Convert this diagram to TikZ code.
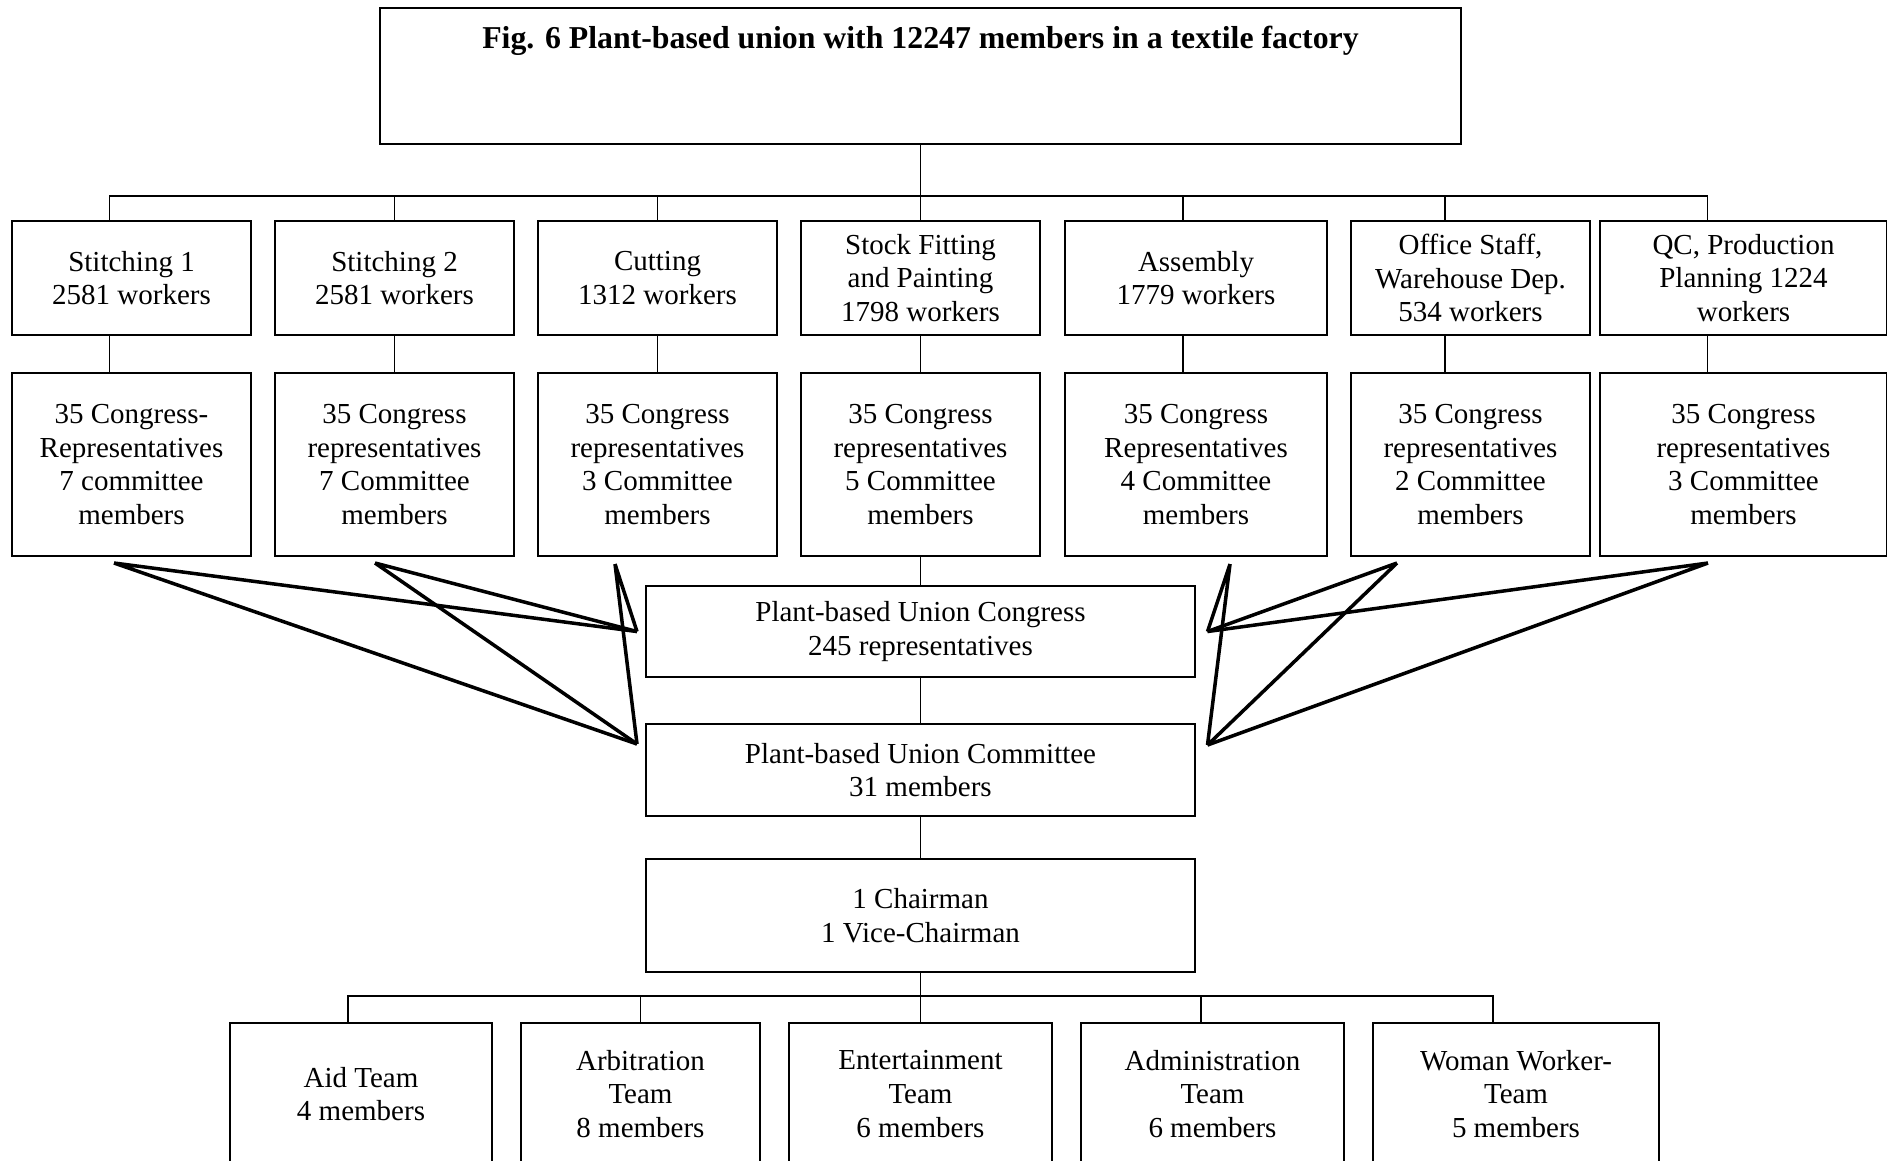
\documentclass[tikz,border=0pt]{standalone}
\usepackage{fontspec}
\setmainfont{Liberation Serif}
\usepackage{tikz}
\usetikzlibrary{positioning}
\newcommand{\boxfont}{\fontsize{16.5}{19.2}\selectfont}
\tikzset{
  %% ---- boxes ----
  titlebox/.style = {rectangle, draw, line width=1.1pt, outer sep=0pt,
                   minimum width=21.62cm, inner ysep=0pt,
                   text height=0.8cm, text depth=1.92cm,
                   font=\fontsize{18.1}{21}\selectfont\bfseries},
  dept/.style   = {rectangle, draw, line width=1.1pt, outer sep=0pt,
                   minimum width=#1, minimum height=2.28cm,
                   inner sep=0pt, align=center, font=\boxfont},
  dept/.default = 4.78cm,
  rep/.style    = {rectangle, draw, line width=1.1pt, outer sep=0pt,
                   minimum width=#1, minimum height=3.66cm,
                   inner sep=0pt, align=center, font=\boxfont},
  rep/.default  = 4.78cm,
  body/.style   = {rectangle, draw, line width=1.1pt, outer sep=0pt,
                   minimum width=10.98cm, minimum height=#1,
                   inner sep=0pt, align=center, font=\boxfont},
  body/.default = 1.82cm,
  team/.style   = {rectangle, draw, line width=1.1pt, outer sep=0pt,
                   minimum width=#1, minimum height=2.84cm,
                   inner sep=0pt, align=center, font=\boxfont},
  team/.default = 5.26cm,
  %% ---- lines ----
  link/.style   = {line width=1.1pt},
  fan/.style    = {line width=2pt},
}

\begin{document}
\begin{tikzpicture}[font=\boxfont]

  \useasboundingbox (0,0) rectangle (37.74,-23.2);

  %% Title
  \node[titlebox, anchor=north] (title) at (18.41,-0.16)
    {Fig. 6 Plant-based union with 12247 members in a textile factory};

  %% Departments
  \node[dept, below=1.54cm of title] (d4) {Stock Fitting\\and Painting\\1798 workers};
  \node[dept, left=0.48cm of d4] (d3) {Cutting\\1312 workers};
  \node[dept, left=0.48cm of d3] (d2) {Stitching 2\\2581 workers};
  \node[dept, left=0.48cm of d2] (d1) {Stitching 1\\2581 workers};
  \node[dept=5.24cm, right=0.5cm of d4] (d5) {Assembly\\1779 workers};
  \node[dept, right=0.48cm of d5] (d6) {Office Staff,\\Warehouse Dep.\\534 workers};
  \node[dept=5.74cm, right=0.2cm of d6] (d7) {QC, Production\\Planning 1224\\workers};

  %% Representatives
  \node[rep, below=0.76cm of d1] (r1)
    {35 Congress-\\Representatives\\7 committee\\members};
  \node[rep, below=0.76cm of d2] (r2)
    {35 Congress\\representatives\\7 Committee\\members};
  \node[rep, below=0.76cm of d3] (r3)
    {35 Congress\\representatives\\3 Committee\\members};
  \node[rep, below=0.76cm of d4] (r4)
    {35 Congress\\representatives\\5 Committee\\members};
  \node[rep=5.24cm, below=0.76cm of d5] (r5)
    {35 Congress\\Representatives\\4 Committee\\members};
  \node[rep, below=0.76cm of d6] (r6)
    {35 Congress\\representatives\\2 Committee\\members};
  \node[rep=5.74cm, below=0.76cm of d7] (r7)
    {35 Congress\\representatives\\3 Committee\\members};

  %% Congress, committee, chairman
  \node[body, below=0.6cm of r4] (cong)
    {Plant-based Union Congress\\245 representatives};
  \node[body=1.84cm, below=0.94cm of cong] (comm)
    {Plant-based Union Committee\\31 members};
  \node[body=2.26cm, below=0.86cm of comm] (chair)
    {1 Chairman\\1 Vice-Chairman};

  %% Teams
  \node[team, below=1.02cm of chair] (t3) {Entertainment\\Team\\6 members};
  \node[team=4.78cm, left=0.58cm of t3] (t2) {Arbitration\\Team\\8 members};
  \node[team=5.24cm, left=0.58cm of t2] (t1) {Aid Team\\4 members};
  \node[team, right=0.58cm of t3] (t4) {Administration\\Team\\6 members};
  \node[team=5.72cm, right=0.58cm of t4] (t5) {Woman Worker-\\Team\\5 members};

  %% Top bus
  \coordinate[below=1.04cm of title] (bus);
  \draw[link] (title) -- (bus);
  \draw[link] ([xshift=-0.44cm]d1.north) |- (bus) -| ([xshift=-0.72cm]d7.north);
  \draw[link] (d2.north) -- (d2.north |- bus);
  \draw[link] (d3.north) -- (d3.north |- bus);
  \draw[link] (d4.north) -- (bus);
  \draw[link] ([xshift=-0.26cm]d5.north) -- ([xshift=-0.26cm]d5.north |- bus);
  \draw[link] ([xshift=-0.51cm]d6.north) -- ([xshift=-0.51cm]d6.north |- bus);

  %% Departments to representatives
  \draw[link] ([xshift=-0.44cm]d1.south) -- ([xshift=-0.44cm]r1.north);
  \draw[link] (d2) -- (r2);
  \draw[link] (d3) -- (r3);
  \draw[link] (d4) -- (r4);
  \draw[link] ([xshift=-0.26cm]d5.south) -- ([xshift=-0.26cm]r5.north);
  \draw[link] ([xshift=-0.51cm]d6.south) -- ([xshift=-0.51cm]r6.north);
  \draw[link] ([xshift=-0.72cm]d7.south) -- ([xshift=-0.72cm]r7.north);

  %% Middle column
  \draw[link] (r4) -- (cong);
  \draw[link] (cong) -- (comm);
  \draw[link] (comm) -- (chair);

  %% Fan lines
  \coordinate (cgl) at ([xshift=-0.18cm]cong.west);
  \coordinate (cgr) at ([xshift=0.25cm]cong.east);
  \coordinate (cml) at ([xshift=-0.18cm,yshift=0.52cm]comm.west);
  \coordinate (cmr) at ([xshift=0.25cm,yshift=0.5cm]comm.east);
  \coordinate (f1) at ([xshift=-0.35cm,yshift=-0.14cm]r1.south);
  \coordinate (f2) at ([xshift=-0.39cm,yshift=-0.14cm]r2.south);
  \coordinate (f3) at ([xshift=-0.85cm,yshift=-0.16cm]r3.south);
  \coordinate (f5) at ([xshift=0.68cm,yshift=-0.16cm]r5.south);
  \coordinate (f6) at ([xshift=-1.47cm,yshift=-0.14cm]r6.south);
  \coordinate (f7) at ([xshift=-0.71cm,yshift=-0.14cm]r7.south);
  \draw[fan] (f1) -- (cgl) (f1) -- (cml);
  \draw[fan] (f2) -- (cgl) (f2) -- (cml);
  \draw[fan] (f3) -- (cgl) (f3) -- (cml);
  \draw[fan] (f5) -- (cgr) (f5) -- (cmr);
  \draw[fan] (f6) -- (cgr) (f6) -- (cmr);
  \draw[fan] (f7) -- (cgr) (f7) -- (cmr);

  %% Bottom bus
  \coordinate[below=0.48cm of chair] (bus2);
  \draw[link] (chair) -- (bus2);
  \draw[link] ([xshift=-0.26cm]t1.north) |- (bus2) -| ([xshift=-0.46cm]t5.north);
  \draw[link] (t2.north) -- (t2.north |- bus2);
  \draw[link] (t3.north) -- (bus2);
  \draw[link] ([xshift=-0.23cm]t4.north) -- ([xshift=-0.23cm]t4.north |- bus2);

\end{tikzpicture}
\end{document}
